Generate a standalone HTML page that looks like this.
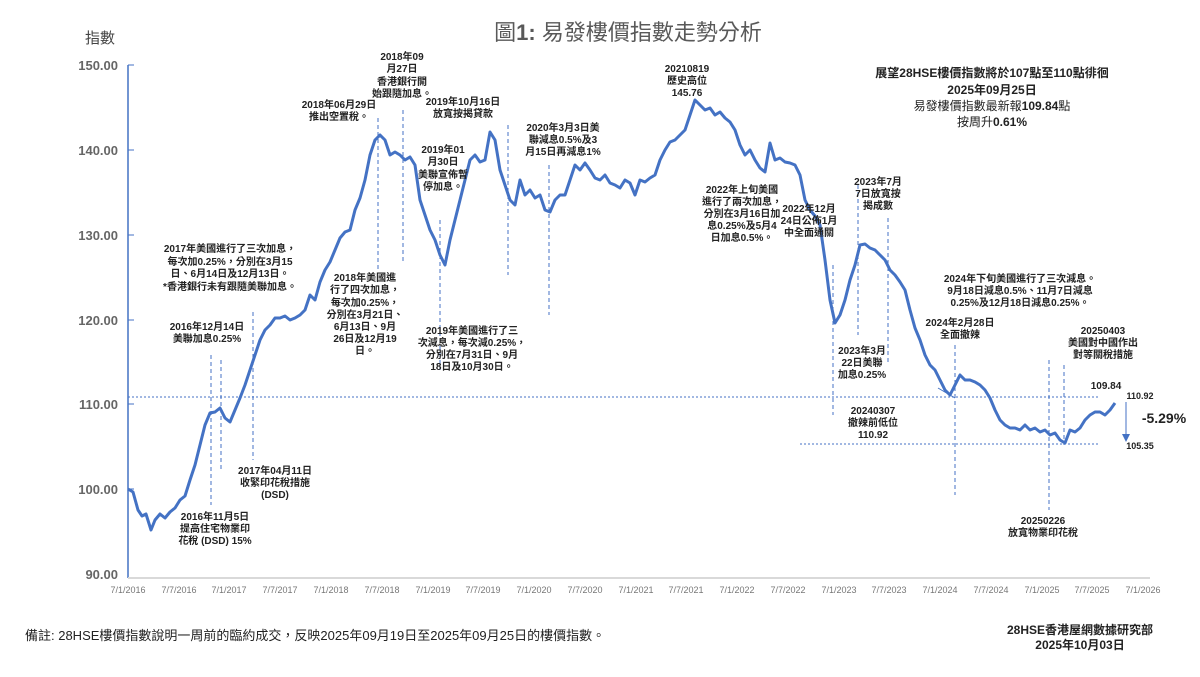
<!DOCTYPE html>
<html><head><meta charset="utf-8"><style>
body{margin:0;background:#fff;}
svg text{font-family:"Liberation Sans","Noto Sans CJK TC",sans-serif;}
.a{font-size:10px;font-weight:bold;fill:#222;text-anchor:middle;}
.t{font-size:9px;fill:#777;text-anchor:middle;}
.y{font-size:13px;font-weight:bold;fill:#666;text-anchor:end;}
.d{stroke:#4472c4;stroke-width:1;stroke-dasharray:4,3;fill:none;}
</style></head><body>
<svg width="1200" height="672" viewBox="0 0 1200 672">
<text x="628" y="40" font-size="22" fill="#595959" text-anchor="middle">圖<tspan font-weight="bold">1:</tspan> 易發樓價指數走勢分析</text>
<text x="100" y="43" font-size="15" fill="#444" text-anchor="middle">指數</text>
<line x1="128" y1="65" x2="128" y2="578" stroke="#4472c4" stroke-width="1.5"/>
<line x1="128" y1="578" x2="1150" y2="578" stroke="#d9d9d9" stroke-width="2"/>
<g stroke="#4472c4"><line x1="128" y1="65" x2="134" y2="65"/><line x1="128" y1="150" x2="134" y2="150"/><line x1="128" y1="235" x2="134" y2="235"/><line x1="128" y1="320" x2="134" y2="320"/><line x1="128" y1="404" x2="134" y2="404"/><line x1="128" y1="489" x2="134" y2="489"/></g>
<text class="y" x="118" y="70">150.00</text><text class="y" x="118" y="155">140.00</text><text class="y" x="118" y="240">130.00</text><text class="y" x="118" y="325">120.00</text><text class="y" x="118" y="409">110.00</text><text class="y" x="118" y="494">100.00</text><text class="y" x="118" y="579">90.00</text>
<g>
<text class="t" x="128" y="593">7/1/2016</text><text class="t" x="179" y="593">7/7/2016</text><text class="t" x="229" y="593">7/1/2017</text><text class="t" x="280" y="593">7/7/2017</text><text class="t" x="331" y="593">7/1/2018</text><text class="t" x="382" y="593">7/7/2018</text><text class="t" x="433" y="593">7/1/2019</text><text class="t" x="483" y="593">7/7/2019</text><text class="t" x="534" y="593">7/1/2020</text><text class="t" x="585" y="593">7/7/2020</text><text class="t" x="636" y="593">7/1/2021</text><text class="t" x="686" y="593">7/7/2021</text><text class="t" x="737" y="593">7/1/2022</text><text class="t" x="788" y="593">7/7/2022</text><text class="t" x="839" y="593">7/1/2023</text><text class="t" x="889" y="593">7/7/2023</text><text class="t" x="940" y="593">7/1/2024</text><text class="t" x="991" y="593">7/7/2024</text><text class="t" x="1042" y="593">7/1/2025</text><text class="t" x="1092" y="593">7/7/2025</text><text class="t" x="1143" y="593">7/1/2026</text>
</g>
<line x1="128" y1="397" x2="1100" y2="397" stroke="#4472c4" stroke-width="1" stroke-dasharray="2,2"/>
<line x1="800" y1="444" x2="1100" y2="444" stroke="#4472c4" stroke-width="1" stroke-dasharray="2,2"/>
<g class="d">
<line x1="211" y1="355" x2="211" y2="505"/><line x1="221" y1="360" x2="221" y2="470"/><line x1="253" y1="312" x2="253" y2="460"/>
<line x1="378" y1="118" x2="378" y2="270"/><line x1="403" y1="110" x2="403" y2="262"/><line x1="440" y1="220" x2="440" y2="370"/>
<line x1="508" y1="125" x2="508" y2="275"/><line x1="549" y1="165" x2="549" y2="315"/>
<line x1="833" y1="265" x2="833" y2="415"/><line x1="858" y1="185" x2="858" y2="335"/><line x1="888" y1="218" x2="888" y2="365"/>
<line x1="955" y1="345" x2="955" y2="495"/><line x1="1049" y1="360" x2="1049" y2="510"/><line x1="1064" y1="365" x2="1064" y2="445"/>
</g>
<line x1="938" y1="388" x2="955" y2="398" stroke="#4472c4" stroke-width="1"/>
<line x1="1126" y1="402" x2="1126" y2="436" stroke="#4472c4" stroke-width="1"/>
<polygon points="1122,434 1130,434 1126,442" fill="#4472c4"/>
<polyline fill="none" stroke="#4472c4" stroke-width="3" stroke-linejoin="round" points="128,489 133,492 138,510 142,516 146,514 151,530 155,520 160,514 165,518 170,512 175,508 180,500 185,496 190,480 195,465 200,445 205,425 210,413 215,412 220,408 225,418 230,422 235,410 240,398 245,385 250,370 255,355 260,340 265,330 270,325 275,318 280,318 285,316 290,320 295,318 300,315 305,310 310,295 315,300 320,282 325,270 330,262 335,250 340,238 345,232 350,230 355,210 360,198 365,180 370,155 375,140 380,135 385,140 390,155 395,152 400,155 405,160 410,157 415,165 420,200 425,215 430,230 435,240 440,255 445,265 450,240 455,220 460,200 465,180 470,160 475,155 480,162 485,160 490,132 495,140 500,170 505,185 510,200 515,205 520,180 525,195 530,190 535,198 540,195 545,210 550,212 555,200 560,195 565,195 570,180 575,165 580,170 585,163 590,170 595,178 600,180 605,175 610,183 615,185 620,188 625,180 630,183 635,195 640,180 645,182 650,178 655,175 660,160 665,150 670,142 675,140 680,135 685,130 690,115 695,100 700,105 705,110 710,108 715,115 720,112 725,118 730,122 735,130 740,145 745,155 750,150 755,160 760,168 765,172 770,143 775,160 780,158 785,162 790,163 795,165 800,175 805,200 810,210 815,216 820,225 825,260 830,300 835,323 840,315 845,300 850,280 855,265 860,245 865,244 870,248 875,250 880,255 885,260 890,270 895,275 900,282 905,290 910,310 915,328 920,340 925,355 930,365 935,370 940,380 945,390 950,395 955,385 960,375 965,380 970,380 975,382 980,385 985,390 990,398 995,410 1000,420 1005,425 1010,428 1015,428 1020,430 1025,425 1030,430 1035,428 1040,432 1045,430 1050,435 1055,433 1060,440 1065,443 1070,430 1075,432 1080,428 1085,420 1090,415 1095,412 1100,412 1105,415 1110,410 1115,403"/>
<g class="a">
<text x="230" y="252">2017年美國進行了三次加息，</text><text x="230" y="265">每次加0.25%，分別在3月15</text><text x="230" y="277">日、6月14日及12月13日。</text><text x="230" y="290">*香港銀行未有跟隨美聯加息。</text>
<text x="207" y="330">2016年12月14日</text><text x="207" y="342">美聯加息0.25%</text>
<text x="215" y="520">2016年11月5日</text><text x="215" y="532">提高住宅物業印</text><text x="215" y="544">花稅 (DSD) 15%</text>
<text x="275" y="474">2017年04月11日</text><text x="275" y="486">收緊印花稅措施</text><text x="275" y="498">(DSD)</text>
<text x="339" y="108">2018年06月29日</text><text x="339" y="120">推出空置稅。</text>
<text x="402" y="60">2018年09</text><text x="402" y="72">月27日</text><text x="402" y="85">香港銀行開</text><text x="402" y="97">始跟隨加息。</text>
<text x="443" y="153">2019年01</text><text x="443" y="165">月30日</text><text x="443" y="178">美聯宣佈暫</text><text x="443" y="190">停加息。</text>
<text x="463" y="105">2019年10月16日</text><text x="463" y="117">放寬按揭貸款</text>
<text x="563" y="131">2020年3月3日美</text><text x="563" y="143">聯減息0.5%及3</text><text x="563" y="155">月15日再減息1%</text>
<text x="365" y="281">2018年美國進</text><text x="365" y="293">行了四次加息，</text><text x="365" y="306">每次加0.25%，</text><text x="365" y="318">分別在3月21日、</text><text x="365" y="330">6月13日、9月</text><text x="365" y="342">26日及12月19</text><text x="365" y="354">日。</text>
<text x="472" y="334">2019年美國進行了三</text><text x="472" y="346">次減息，每次減0.25%，</text><text x="472" y="358">分別在7月31日、9月</text><text x="472" y="370">18日及10月30日。</text>
<text x="687" y="72">20210819</text><text x="687" y="84">歷史高位</text><text x="687" y="96">145.76</text>
<text x="742" y="193">2022年上旬美國</text><text x="742" y="205">進行了兩次加息，</text><text x="742" y="217">分別在3月16日加</text><text x="742" y="229">息0.25%及5月4</text><text x="742" y="241">日加息0.5%。</text>
<text x="809" y="212">2022年12月</text><text x="809" y="224">24日公佈1月</text><text x="809" y="236">中全面通關</text>
<text x="878" y="185">2023年7月</text><text x="878" y="197">7日放寬按</text><text x="878" y="209">揭成數</text>
<text x="862" y="354">2023年3月</text><text x="862" y="366">22日美聯</text><text x="862" y="378">加息0.25%</text>
<text x="1020" y="282">2024年下旬美國進行了三次減息。</text><text x="1020" y="294">9月18日減息0.5%、11月7日減息</text><text x="1020" y="306">0.25%及12月18日減息0.25%。</text>
<text x="960" y="326">2024年2月28日</text><text x="960" y="338">全面撤辣</text>
<text x="1103" y="334">20250403</text><text x="1103" y="346">美國對中國作出</text><text x="1103" y="358">對等關稅措施</text>
<text x="873" y="414">20240307</text><text x="873" y="426">撤辣前低位</text><text x="873" y="438">110.92</text>
<text x="1043" y="524">20250226</text><text x="1043" y="536">放寬物業印花稅</text>
<text x="1106" y="389">109.84</text>
<text x="1140" y="399" font-size="9">110.92</text><text x="1140" y="449" font-size="9">105.35</text>
</g>
<text x="1164" y="423" font-size="14" font-weight="bold" fill="#222" text-anchor="middle">-5.29%</text>
<g font-size="12" fill="#222" text-anchor="middle">
<text x="992" y="77" font-weight="bold">展望28HSE樓價指數將於107點至110點徘徊</text>
<text x="992" y="94" font-weight="bold">2025年09月25日</text>
<text x="992" y="110">易發樓價指數最新報<tspan font-weight="bold">109.84</tspan>點</text>
<text x="992" y="126">按周升<tspan font-weight="bold">0.61%</tspan></text>
</g>
<text x="25" y="640" font-size="13" fill="#222">備註: 28HSE樓價指數說明一周前的臨約成交，反映2025年09月19日至2025年09月25日的樓價指數。</text>
<text x="1080" y="634" font-size="12" font-weight="bold" fill="#222" text-anchor="middle">28HSE香港屋網數據研究部</text>
<text x="1080" y="649" font-size="12" font-weight="bold" fill="#222" text-anchor="middle">2025年10月03日</text>
</svg>
</body></html>
